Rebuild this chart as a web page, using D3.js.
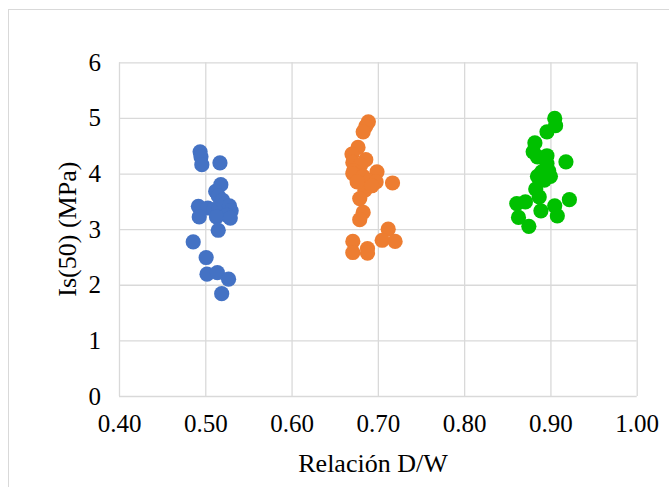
<!DOCTYPE html>
<html><head><meta charset="utf-8">
<script src="https://cdn.jsdelivr.net/npm/d3@7"></script>
<style>body{margin:0;background:#fff}svg{display:block}</style>
</head><body>
<svg id="c" width="669" height="487"></svg>
<script>
const xTicks = [0.40,0.50,0.60,0.70,0.80,0.90,1.00];
const yTicks = [0,1,2,3,4,5,6];
const seriesNames = ["0.5","0.7","0.9"];
const seriesColors = ["#4472C4","#ED7D31","#00C000"];
const blueX = [0.494,0.495,0.496,0.517,0.518,0.512,0.515,0.520,0.492,0.503,0.510,0.516,0.522,0.528,0.530,0.525,0.513,0.493,0.529,0.515,0.486,0.501,0.502,0.514,0.527,0.519];
const blueY = [4.39,4.30,4.16,4.19,3.80,3.68,3.60,3.52,3.41,3.38,3.35,3.38,3.45,3.42,3.33,3.25,3.22,3.22,3.20,2.98,2.77,2.49,2.19,2.22,2.10,1.84];
const orangeX = [0.689,0.686,0.683,0.677,0.670,0.686,0.671,0.680,0.672,0.699,0.671,0.683,0.690,0.698,0.717,0.685,0.679,0.683,0.679,0.712,0.705,0.720,0.671,0.671,0.688,0.688,0.676,0.693];
const orangeY = [4.93,4.85,4.75,4.47,4.35,4.25,4.20,4.15,4.05,4.03,4.00,3.95,3.87,3.85,3.83,3.70,3.55,3.30,3.17,3.00,2.80,2.78,2.78,2.58,2.65,2.57,3.85,3.78];
const greenX = [0.905,0.906,0.896,0.882,0.880,0.885,0.896,0.918,0.896,0.890,0.900,0.885,0.893,0.895,0.883,0.887,0.871,0.861,0.922,0.905,0.889,0.863,0.908,0.875,0.898];
const greenY = [4.99,4.86,4.75,4.55,4.39,4.30,4.32,4.21,4.18,4.03,3.95,3.95,3.88,3.98,3.72,3.58,3.49,3.46,3.53,3.42,3.33,3.21,3.24,3.05,4.05];
const xTitle = "Relación D/W";
const yTitle = "Is(50) (MPa)";

const svg = d3.select("#c");
svg.append("rect").attr("x",0).attr("y",0).attr("width",669).attr("height",487).attr("fill","#fff");
svg.append("rect").attr("x",8.5).attr("y",9.5).attr("width",700).attr("height",500)
  .attr("fill","none").attr("stroke","#d9d9d9").attr("stroke-width",1);

const L=119, R=636.7, T=62.3, B=396;
const x = d3.scaleLinear().domain([0.4,1.0]).range([L,R]);
const y = d3.scaleLinear().domain([0,6]).range([B,T]);
const font = "'Liberation Serif','Times New Roman',serif";

const gx = svg.append("g").attr("transform",`translate(0,${B})`)
  .call(d3.axisBottom(x).tickValues(xTicks).tickFormat(d3.format(".2f")).tickSize(-(B-T)).tickPadding(13));
gx.select(".domain").remove();
gx.selectAll(".tick line").attr("stroke","#d9d9d9").attr("stroke-width",1.3);
gx.selectAll(".tick text").attr("font-family",font).attr("font-size",25).attr("fill","#000").attr("dy","0.9em");

const gy = svg.append("g").attr("transform",`translate(${L},0)`)
  .call(d3.axisLeft(y).tickValues(yTicks).tickFormat(d3.format("d")).tickSize(-(R-L)).tickPadding(18));
gy.select(".domain").remove();
gy.selectAll(".tick line").attr("stroke","#d9d9d9").attr("stroke-width",1.3);
gy.selectAll(".tick text").attr("font-family",font).attr("font-size",25).attr("fill","#000");

const series = [
  {xs:blueX, ys:blueY, c:seriesColors[0]},
  {xs:orangeX, ys:orangeY, c:seriesColors[1]},
  {xs:greenX, ys:greenY, c:seriesColors[2]}
];
series.forEach(s=>{
  svg.append("g").selectAll("circle").data(s.xs.map((v,i)=>[v,s.ys[i]])).join("circle")
    .attr("cx",d=>x(d[0])).attr("cy",d=>y(d[1])).attr("r",7.6).attr("fill",s.c);
});

svg.append("text").attr("x",373).attr("y",472).attr("text-anchor","middle")
  .attr("font-family",font).attr("font-size",26).attr("fill","#000").text(xTitle);
svg.append("text").attr("transform",`translate(76,${(T+B)/2}) rotate(-90)`).attr("text-anchor","middle")
  .attr("font-family",font).attr("font-size",26).attr("fill","#000").text(yTitle);
</script>
</body></html>
